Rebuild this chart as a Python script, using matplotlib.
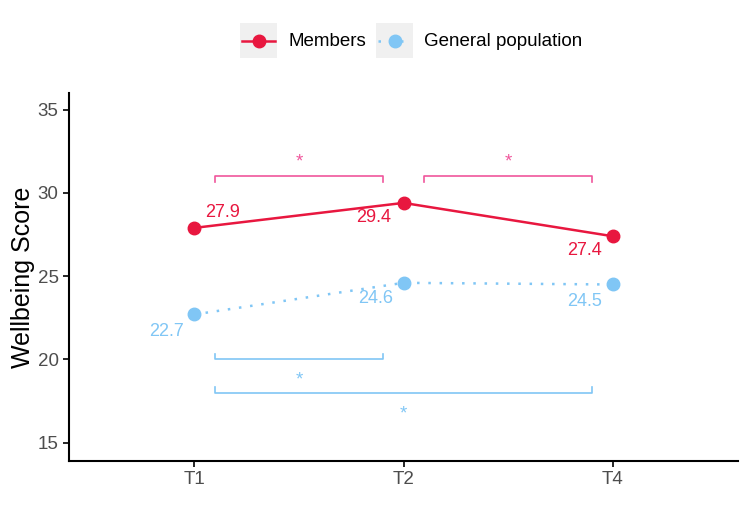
import matplotlib.pyplot as plt
from matplotlib.lines import Line2D
from matplotlib.patches import Rectangle

# data
timepoints = ["T1", "T2", "T4"]
members = [27.9, 29.4, 27.4]
general = [22.7, 24.6, 24.5]

# significance brackets: (from_idx, to_idx, bracket_y, star_y)
members_sig = [(0, 1, 31.0, 31.85), (1, 2, 31.0, 31.85)]
general_sig = [(0, 1, 20.0, 18.75), (0, 2, 18.0, 16.75)]

RED = "#E8173F"
BLUE = "#80C6F5"
PINK = "#F0569C"
DOTS = (0, (1, 3.5))

plt.rcParams["font.family"] = ["Liberation Sans", "DejaVu Sans"]

fig = plt.figure(figsize=(7.5, 5.25), dpi=100)
ax = fig.add_axes([69 / 750, 1 - 461 / 525, (738 - 69) / 750, (461 - 93) / 525])

x = list(range(1, len(timepoints) + 1))
ax.plot(x, members, color=RED, lw=1.8, marker="o", ms=9, zorder=3)
ax.plot(x, general, color=BLUE, lw=1.8, ls=DOTS, marker="o", ms=9, zorder=3)

# value labels
m_off = [(0.05, 0.9, "left"), (-0.06, -0.9, "right"), (-0.05, -0.85, "right")]
for xi, v, (dx, dy, ha) in zip(x, members, m_off):
    ax.text(xi + dx, v + dy, f"{v:.1f}", color=RED, fontsize=13, ha=ha, va="center")
g_off = [(-0.05, -1.0, "right"), (-0.05, -0.95, "right"), (-0.05, -1.0, "right")]
for xi, v, (dx, dy, ha) in zip(x, general, g_off):
    ax.text(xi + dx, v + dy, f"{v:.1f}", color=BLUE, fontsize=13, ha=ha, va="center")


def bracket(i, j, y, star_y, color, up):
    x0, x1 = x[i] + 0.1, x[j] - 0.1
    h = 0.35 if up else -0.35
    ax.plot([x0, x0, x1, x1], [y - h, y, y, y - h], color=color, lw=1.2)
    ax.text((x0 + x1) / 2, star_y, "*", color=color, fontsize=13.5, ha="center", va="center")


for i, j, y, sy in members_sig:
    bracket(i, j, y, sy, PINK, True)
for i, j, y, sy in general_sig:
    bracket(i, j, y, sy, BLUE, False)

ax.set_xlim(0.4, 3.6)
ax.set_ylim(13.9, 36.0)
ax.set_xticks(x)
ax.set_xticklabels(timepoints)
ax.set_yticks([15, 20, 25, 30, 35])
ax.tick_params(labelsize=13.5, colors="black", labelcolor="#4d4d4d", length=4, width=1.2)
for s in ["top", "right"]:
    ax.spines[s].set_visible(False)
for s in ["left", "bottom"]:
    ax.spines[s].set_linewidth(1.5)
ax.set_ylabel("Wellbeing Score", fontsize=18, labelpad=2)

# legend drawn like ggplot: grey key boxes on top
W, H = 750, 525
keys = [("Members", RED, "-", 240, 288), ("General population", BLUE, DOTS, 376, 424)]
for label, col, ls, bx, tx in keys:
    fig.add_artist(Rectangle((bx / W, 1 - 58 / H), 37 / W, 35 / H, transform=fig.transFigure,
                             facecolor="#F0F0F0", edgecolor="none"))
    fig.add_artist(Line2D([(bx + 2) / W, (bx + 35) / W], [1 - 41 / H, 1 - 41 / H],
                          transform=fig.transFigure, color=col, lw=1.8, ls=ls))
    fig.add_artist(Line2D([(bx + 18.5) / W], [1 - 41 / H], transform=fig.transFigure,
                          color=col, marker="o", ms=9, ls="none"))
    fig.text(tx / W, 1 - 41 / H, label, fontsize=13.5, va="center", ha="left")

fig.savefig("out.png", dpi=100)
